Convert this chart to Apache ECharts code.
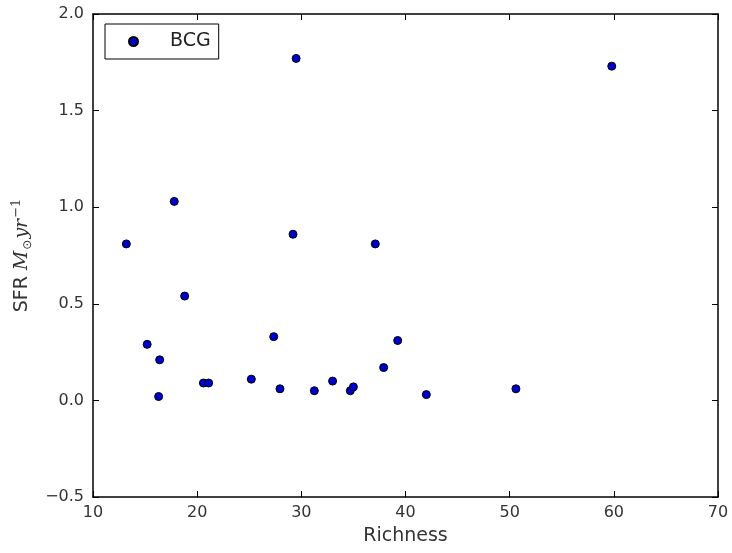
<!DOCTYPE html>
<html>
<head>
<meta charset="utf-8">
<script src="https://cdn.jsdelivr.net/npm/echarts@6/dist/echarts.min.js"></script>
<style>
  html, body { margin: 0; padding: 0; background: #fff; }
  #chart { width: 732px; height: 553px; }
</style>
</head>
<body>
<div id="chart"></div>
<script>
// richness vs SFR for the BCGs
const richness = [13.2, 15.2, 16.3, 16.4, 17.8, 18.8, 20.6, 21.1, 25.2, 27.35, 27.95, 29.2, 29.5,
  31.25, 33.0, 34.7, 35.0, 37.1, 37.9, 39.25, 42.0, 50.6, 59.8];
const sfr = [0.81, 0.29, 0.02, 0.21, 1.03, 0.54, 0.09, 0.09, 0.11, 0.33, 0.06, 0.86, 1.77,
  0.05, 0.10, 0.05, 0.07, 0.81, 0.17, 0.31, 0.03, 0.06, 1.73];
const seriesName = 'BCG';

const chart = echarts.init(document.getElementById('chart'), null, { renderer: 'canvas' });

const font = 'DejaVu Sans';
const labelColor = '#333';

function fmt(v) {
  const s = v.toFixed(1);
  return v < 0 ? '\u2212' + s.substring(1) : s;
}

// axis style shared by all four sides (matplotlib classic: ticks inside, on every side)
function sideAxis(extra) {
  return Object.assign({
    axisLine: { show: true, onZero: false, lineStyle: { color: '#000', width: 1.5 } },
    axisTick: { show: true, inside: true, length: 6, lineStyle: { color: '#000', width: 1 } },
    splitLine: { show: false }
  }, extra);
}

const option = {
  animation: false,
  backgroundColor: '#fff',
  grid: { left: 93, right: 14, top: 14, bottom: 56 },
  legend: {
    data: [seriesName],
    left: 105,
    top: 24,
    orient: 'vertical',
    icon: 'circle',
    itemWidth: 9,
    itemHeight: 9,
    padding: [8, 8, 8, 23],
    borderColor: '#000',
    borderWidth: 1,
    borderRadius: 0,
    textStyle: { fontFamily: font, fontSize: 19, color: '#222', padding: [0, 0, 0, 27] }
  },
  xAxis: [
    sideAxis({
      type: 'value', min: 10, max: 70, interval: 10,
      name: 'Richness', nameLocation: 'middle', nameGap: 30,
      nameTextStyle: { fontFamily: font, fontSize: 19, color: labelColor },
      axisLabel: { fontFamily: font, fontSize: 16, color: labelColor, margin: 8 }
    }),
    sideAxis({
      type: 'value', min: 10, max: 70, interval: 10, position: 'top',
      axisLabel: { show: false }
    })
  ],
  yAxis: [
    sideAxis({
      type: 'value', min: -0.5, max: 2.0, interval: 0.5,
      name: '{a|SFR }{b|M}{s|\u2299}{b|yr}{p|\u22121}',
      nameLocation: 'middle', nameGap: 52, nameRotate: 90,
      nameTextStyle: {
        rich: {
          a: { fontFamily: font, fontSize: 19, color: labelColor },
          b: { fontFamily: 'DejaVu Serif', fontStyle: 'italic', fontSize: 19, color: labelColor },
          s: { fontFamily: 'DejaVu Sans', fontSize: 12, color: labelColor, verticalAlign: 'bottom', padding: [9, 1, 0, 1] },
          p: { fontFamily: 'DejaVu Serif', fontSize: 13, color: labelColor, padding: [0, 0, 11, 1] }
        }
      },
      axisLabel: { fontFamily: font, fontSize: 16, color: labelColor, margin: 9, formatter: fmt }
    }),
    sideAxis({
      type: 'value', min: -0.5, max: 2.0, interval: 0.5, position: 'right',
      axisLabel: { show: false }
    })
  ],
  series: [{
    name: seriesName,
    type: 'scatter',
    symbol: 'circle',
    symbolSize: 8,
    data: richness.map((x, i) => [x, sfr[i]]),
    itemStyle: { color: '#0000cc', borderColor: '#000', borderWidth: 1, opacity: 1 }
  }]
};

chart.setOption(option);
</script>
</body>
</html>
